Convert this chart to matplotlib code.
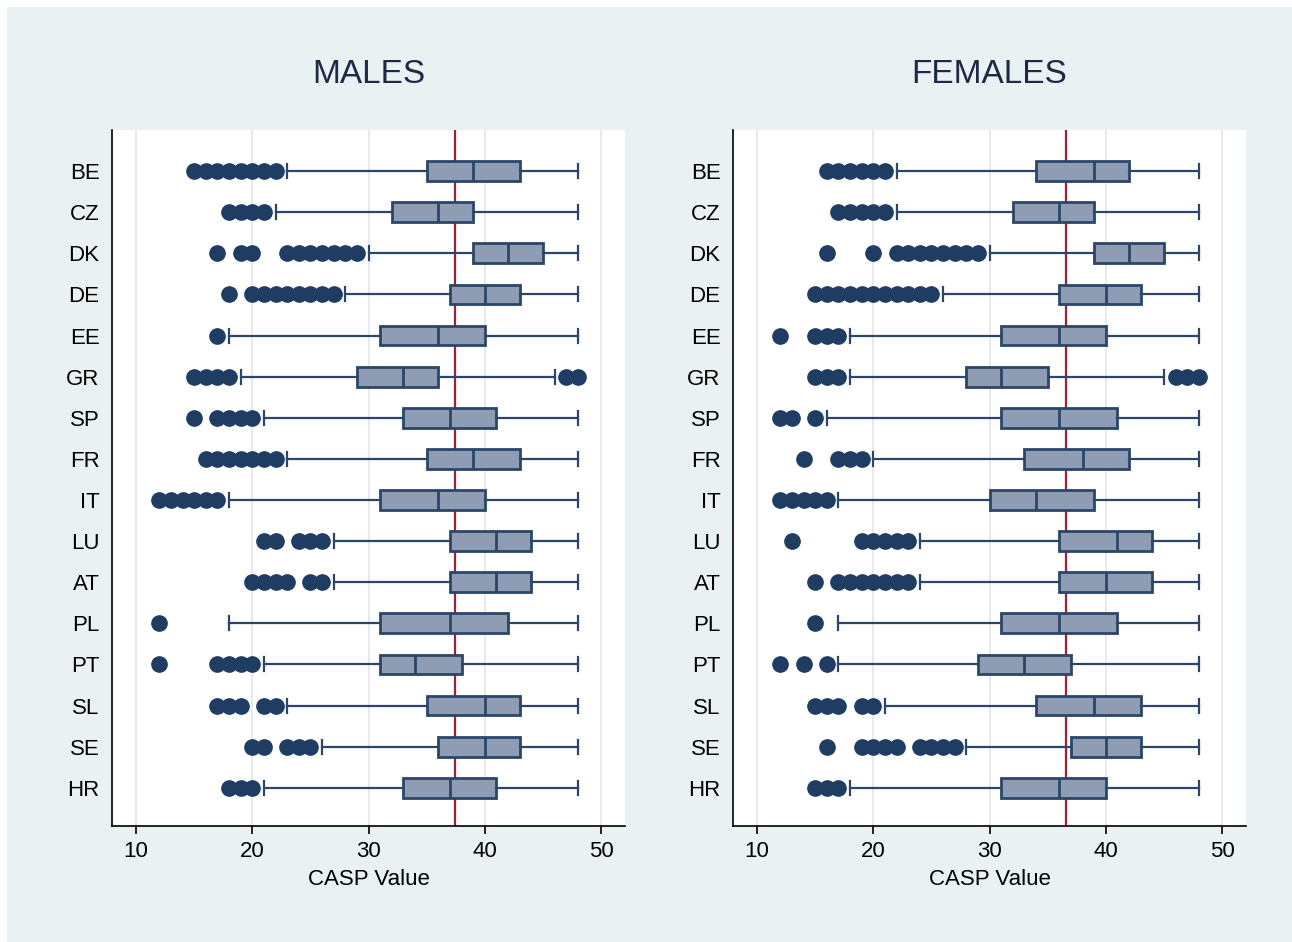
import matplotlib
matplotlib.use("Agg")
import matplotlib.pyplot as plt
from matplotlib.patches import Rectangle

countries = ["BE", "CZ", "DK", "DE", "EE", "GR", "SP", "FR", "IT", "LU", "AT", "PL", "PT", "SL", "SE", "HR"]

# MALES: whisker low, q1, median, q3, whisker high, outliers
m_wlo = [23, 22, 30, 28, 18, 19, 21, 23, 18, 27, 27, 18, 21, 23, 26, 21]
m_q1  = [35, 32, 39, 37, 31, 29, 33, 35, 31, 37, 37, 31, 31, 35, 36, 33]
m_med = [39, 36, 42, 40, 36, 33, 37, 39, 36, 41, 41, 37, 34, 40, 40, 37]
m_q3  = [43, 39, 45, 43, 40, 36, 41, 43, 40, 44, 44, 42, 38, 43, 43, 41]
m_whi = [48, 48, 48, 48, 48, 46, 48, 48, 48, 48, 48, 48, 48, 48, 48, 48]
m_out = [
    [15, 16, 17, 18, 19, 20, 21, 22],
    [18, 19, 20, 21],
    [17, 19, 20, 23, 24, 25, 26, 27, 28, 29],
    [18, 20, 21, 22, 23, 24, 25, 26, 27],
    [17],
    [15, 16, 17, 18, 47, 48],
    [15, 17, 18, 19, 20],
    [16, 17, 18, 19, 20, 21, 22],
    [12, 13, 14, 15, 16, 17],
    [21, 22, 24, 25, 26],
    [20, 21, 22, 23, 25, 26],
    [12],
    [12, 17, 18, 19, 20],
    [17, 18, 19, 21, 22],
    [20, 21, 23, 24, 25],
    [18, 19, 20],
]
m_ref = 37.4

# FEMALES
f_wlo = [22, 22, 30, 26, 18, 18, 16, 20, 17, 24, 24, 17, 17, 21, 28, 18]
f_q1  = [34, 32, 39, 36, 31, 28, 31, 33, 30, 36, 36, 31, 29, 34, 37, 31]
f_med = [39, 36, 42, 40, 36, 31, 36, 38, 34, 41, 40, 36, 33, 39, 40, 36]
f_q3  = [42, 39, 45, 43, 40, 35, 41, 42, 39, 44, 44, 41, 37, 43, 43, 40]
f_whi = [48, 48, 48, 48, 48, 45, 48, 48, 48, 48, 48, 48, 48, 48, 48, 48]
f_out = [
    [16, 17, 18, 19, 20, 21],
    [17, 18, 19, 20, 21],
    [16, 20, 22, 23, 24, 25, 26, 27, 28, 29],
    [15, 16, 17, 18, 19, 20, 21, 22, 23, 24, 25],
    [12, 15, 16, 17],
    [15, 16, 17, 46, 47, 48],
    [12, 13, 15],
    [14, 17, 18, 19],
    [12, 13, 14, 15, 16],
    [13, 19, 20, 21, 22, 23],
    [15, 17, 18, 19, 20, 21, 22, 23],
    [15],
    [12, 14, 16],
    [15, 16, 17, 19, 20],
    [16, 19, 20, 21, 22, 24, 25, 26, 27],
    [15, 16, 17],
]
f_ref = 36.6

titles = ["MALES", "FEMALES"]
xticks = [10, 20, 30, 40, 50]
xlabel = "CASP Value"

BG = "#eaf1f3"
NAVY = "#2b4668"
BOXFILL = "#8e9db3"
FLIER = "#1f3d63"
RED = "#9e2235"

plt.rcParams['font.family'] = ['Liberation Sans', 'DejaVu Sans']

W, H = 1292, 942
fig = plt.figure(figsize=(W / 100, H / 100), dpi=100, facecolor="white")
fig.patches.append(Rectangle((7 / W, 0), 1 - 7 / W, 1 - 7 / H, transform=fig.transFigure,
                             facecolor=BG, edgecolor="none", zorder=-10))

panels = [
    (112, m_wlo, m_q1, m_med, m_q3, m_whi, m_out, m_ref),
    (733, f_wlo, f_q1, f_med, f_q3, f_whi, f_out, f_ref),
]

for k, (x0px, wlo, q1, med, q3, whi, outs, ref) in enumerate(panels):
    ax = fig.add_axes([x0px / W, 1 - 826 / H, (625 - 112) / W, (826 - 130) / H])
    ax.set_facecolor("white")
    stats = []
    for i in range(len(countries)):
        stats.append(dict(label=countries[i], whislo=wlo[i], q1=q1[i], med=med[i],
                          q3=q3[i], whishi=whi[i], fliers=outs[i]))
    pos = list(range(1, len(countries) + 1))
    ax.bxp(stats, positions=pos, vert=False, widths=0.48, capwidths=0.34,
           patch_artist=True, showfliers=True,
           boxprops=dict(facecolor=BOXFILL, edgecolor=NAVY, linewidth=2.0),
           medianprops=dict(color=NAVY, linewidth=2.0),
           whiskerprops=dict(color=NAVY, linewidth=1.6),
           capprops=dict(color=NAVY, linewidth=1.6),
           flierprops=dict(marker='o', markerfacecolor=FLIER, markeredgecolor=FLIER,
                           markersize=11, linestyle='none'),
           zorder=3)
    ax.axvline(ref, color=RED, linewidth=1.6, zorder=2.5)
    ax.set_xlim(7.93, 52.06)
    ax.set_ylim(16.93, 0.0)
    ax.set_xticks(xticks)
    ax.set_xticklabels([str(t) for t in xticks])
    ax.set_yticks(pos)
    ax.set_yticklabels(countries)
    ax.grid(axis='x', color="#e6eaee", linewidth=1.4, zorder=0)
    ax.set_axisbelow(True)
    for s in ["top", "right"]:
        ax.spines[s].set_visible(False)
    for s in ["left", "bottom"]:
        ax.spines[s].set_color("black")
        ax.spines[s].set_linewidth(1.2)
    ax.tick_params(axis='x', length=6, width=1.2, pad=5, labelsize=16, colors='black')
    ax.tick_params(axis='y', length=0, pad=9, labelsize=16, colors='black')
    ax.set_xlabel(xlabel, fontsize=16, labelpad=5)
    ax.text(0.5, 1 + 56 / 696, titles[k], transform=ax.transAxes, ha='center', va='center',
            fontsize=24, color="#1e2a45")

fig.savefig("out.png", dpi=100, facecolor=fig.get_facecolor())
